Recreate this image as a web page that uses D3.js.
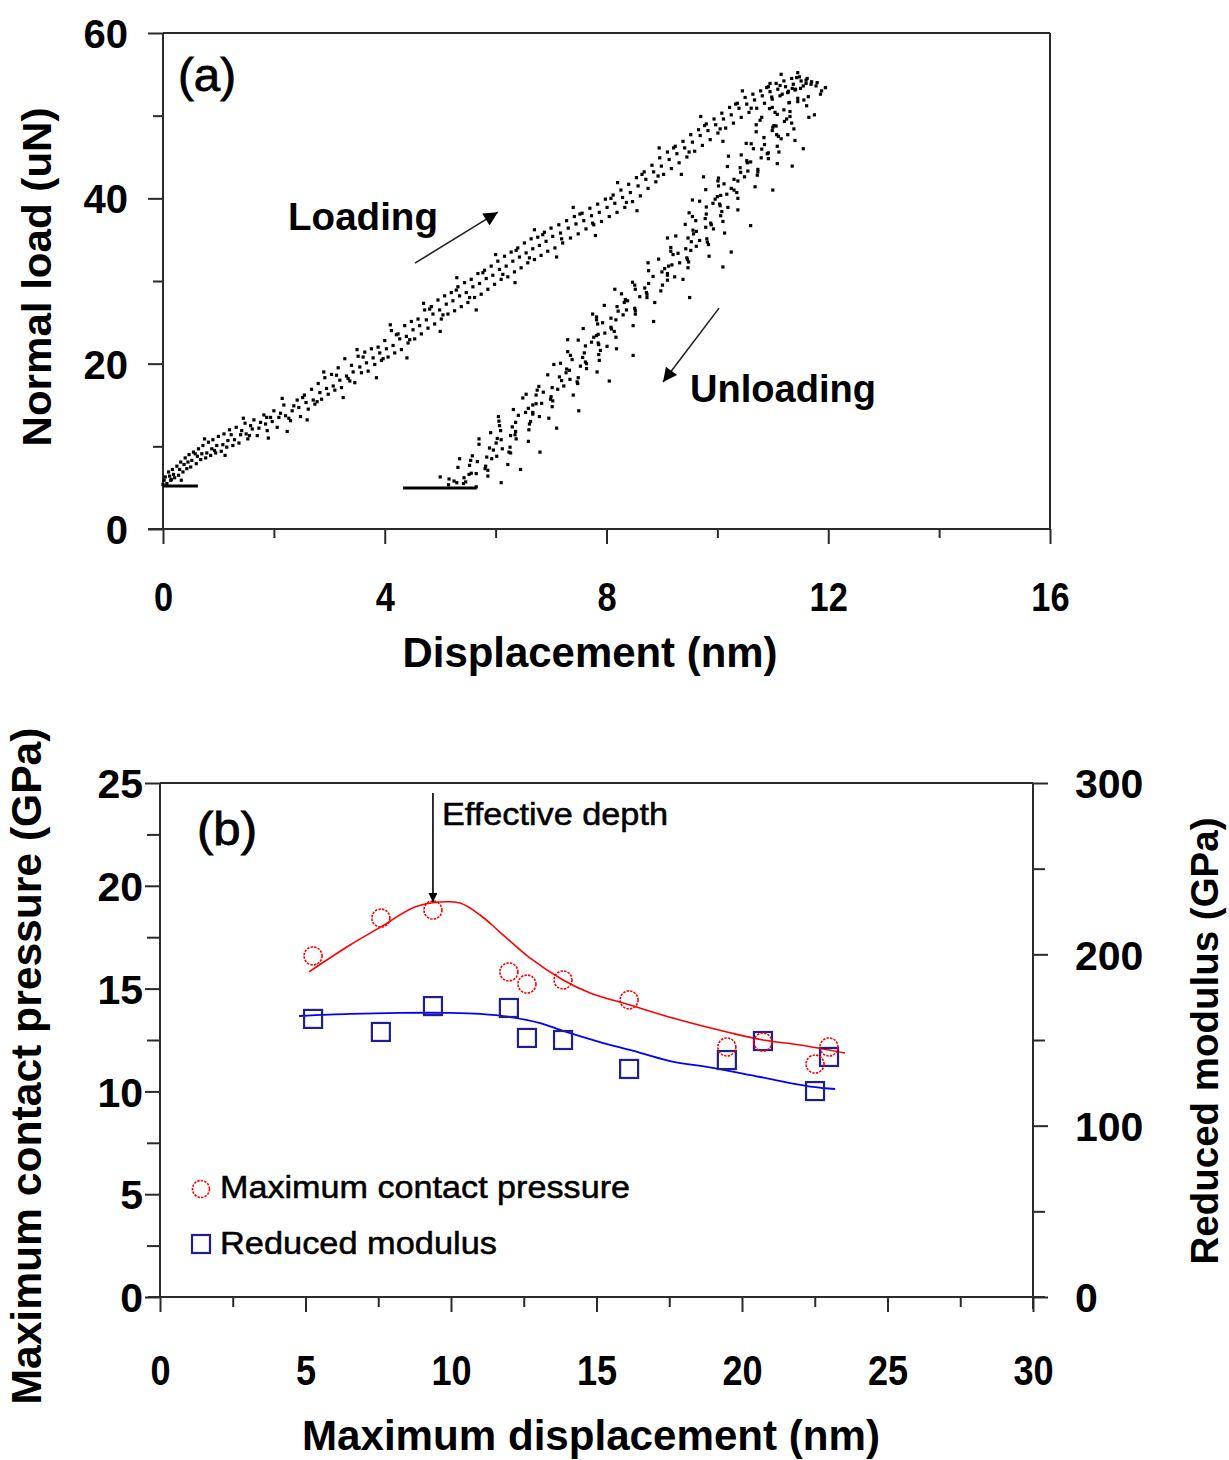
<!DOCTYPE html>
<html><head><meta charset="utf-8">
<script src="https://cdn.jsdelivr.net/npm/d3@7"></script>
<style>body{margin:0;background:#fff}svg{display:block}text{font-family:"Liberation Sans",Arial,sans-serif;fill:#000}</style>
</head><body>
<svg id="c" width="1229" height="1460"></svg>
<script>
// ---------- Panel (a) data ----------
const dispTicks = [0,4,8,12,16];
const dispMinor = [2,6,10,14];
const loadTicks = [0,20,40,60];
const loadMinor = [10,30,50];
const loadingPts = [
[0.0,5.4],[0.04,6.3],[0.07,5.5],[0.1,6.9],[0.14,5.9],[0.17,7.2],[0.21,6.2],[0.25,7.6],[0.28,6.5],[0.32,8.1],[0.36,6.9],[0.4,8.6],[0.43,7.3],[0.47,9.0],[0.5,7.5],[0.55,9.3],[0.6,7.9],[0.64,9.7],[0.68,8.4],[0.72,10.1],[0.77,8.6],[0.82,10.5],[0.86,8.9],[0.9,10.8],[0.95,9.2],[1.0,11.2],[1.05,9.4],[1.1,11.5],[1.15,9.9],[1.2,12.0],[1.26,10.1],[1.32,12.3],[1.37,10.4],[1.42,11.9],[1.48,12.8],[1.53,10.9],[1.58,12.5],[1.64,13.2],[1.7,11.3],[1.76,12.9],[1.82,13.8],[1.88,11.9],[1.94,13.5],[2.0,14.3],[2.06,12.3],[2.12,14.0],[2.18,15.0],[2.24,11.8],[2.3,13.1],[2.36,14.9],[2.42,15.6],[2.48,13.6],[2.55,16.2],[2.62,14.5],[2.68,16.9],[2.74,15.1],[2.8,17.6],[2.86,15.7],[2.92,18.3],[2.98,16.3],[3.04,18.7],[3.1,16.8],[3.16,19.5],[3.22,17.1],[3.28,20.6],[3.34,18.2],[3.4,19.8],[3.46,17.7],[3.52,20.9],[3.58,18.9],[3.64,21.4],[3.7,19.1],[3.76,21.8],[3.82,19.9],[3.88,22.0],[3.94,20.4],[4.0,22.8],[4.06,20.8],[4.12,24.0],[4.18,21.3],[4.24,23.6],[4.3,21.7],[4.36,24.6],[4.42,22.5],[4.48,25.1],[4.54,23.0],[4.6,25.4],[4.66,23.6],[4.72,26.5],[4.78,24.3],[4.84,26.9],[4.9,24.8],[4.96,27.7],[5.02,25.4],[5.08,28.2],[5.14,26.0],[5.2,28.6],[5.26,26.4],[5.32,29.3],[5.38,26.9],[5.44,29.8],[5.5,27.4],[5.56,30.2],[5.62,28.0],[5.68,30.9],[5.74,28.4],[5.8,31.3],[5.86,29.0],[5.92,31.8],[5.98,29.6],[6.04,32.4],[6.1,30.2],[6.16,33.0],[6.22,30.5],[6.28,33.5],[6.34,31.1],[6.4,34.0],[6.46,31.6],[6.52,34.6],[6.58,32.2],[6.64,35.1],[6.7,32.6],[6.76,35.3],[6.82,33.1],[6.88,35.9],[6.94,33.6],[7.0,36.4],[7.07,34.0],[7.14,36.8],[7.21,34.6],[7.28,37.3],[7.35,35.2],[7.42,37.8],[7.49,35.7],[7.56,38.2],[7.63,36.3],[7.7,38.8],[7.77,36.8],[7.84,39.3],[7.91,37.2],[7.98,39.9],[8.05,37.8],[8.12,40.4],[8.19,38.3],[8.26,41.0],[8.33,38.9],[8.4,41.7],[8.47,39.6],[8.54,42.5],[8.61,40.3],[8.68,43.2],[8.75,41.2],[8.82,44.0],[8.89,42.0],[8.96,44.9],[9.03,42.9],[9.1,45.6],[9.17,43.6],[9.24,46.3],[9.31,44.3],[9.38,46.9],[9.45,45.0],[9.52,47.7],[9.59,45.7],[9.66,48.3],[9.73,46.4],[9.8,49.0],[9.87,47.1],[9.94,49.6],[10.01,47.9],[10.08,50.3],[10.15,48.5],[10.22,51.0],[10.29,49.1],[10.36,51.5],[10.43,49.8],[10.5,52.2],[10.57,50.4],[10.64,52.6],[10.71,50.9],[10.78,53.0],[10.85,51.5],[10.92,53.5],[10.99,52.0],[11.06,53.9],[11.13,52.4],[11.2,54.2],[11.27,52.8],[11.34,54.5],[11.41,53.2],[11.48,54.7],[11.55,53.6],[11.62,54.5],[11.7,54.1],[11.78,53.6],[11.88,53.0],
[0.02,5.9],[0.12,6.4],[0.19,6.6],[0.3,7.2],[0.38,7.8],[0.45,8.1],[0.52,8.3],[0.62,8.8],[0.7,9.1],[0.79,9.2],[0.88,9.7],[0.97,10.1],[1.08,10.2],[1.17,10.7],[1.29,10.8],[1.4,11.4],[1.5,11.5],[1.61,12.1],[1.73,12.2],[1.85,12.7],[1.97,13.0],[2.09,13.5],[2.21,13.7],[2.33,14.3],[2.45,14.7],[2.58,15.3],[2.71,15.6],[2.83,16.5],[2.95,17.0],[3.07,17.3],[3.19,18.0],[3.31,18.5],[3.43,19.0],[3.55,19.6],[3.67,20.1],[3.79,20.7],[3.91,21.3],[4.03,21.8],[4.15,22.2],[4.27,23.0],[4.39,23.3],[4.51,24.1],[4.63,24.6],[4.75,25.3],[4.87,26.0],[4.99,26.5],[5.11,27.2],[5.23,27.6],[5.35,28.2],[5.47,28.6],[5.59,29.3],[5.71,29.7],[5.83,30.3],[5.95,30.7],[6.07,31.4],[6.19,31.8],[6.31,32.4],[6.43,32.9],[6.55,33.4],[6.67,33.9],[6.79,34.3],[6.91,34.8],[7.03,35.4],[7.17,35.8],[7.31,36.4],[7.45,36.9],[7.59,37.3],[7.73,37.9],[7.87,38.3],[8.01,38.9],[8.15,39.4],[8.29,40.1],[8.43,40.7],[8.57,41.5],[8.71,42.3],[8.85,43.2],[8.99,43.9],[9.13,44.7],[9.27,45.4],[9.41,46.1],[9.55,46.8],[9.69,47.6],[9.83,48.2],[9.97,48.9],[10.11,49.6],[10.25,50.1],[10.39,50.9],[10.53,51.4],[10.67,51.9],[10.81,52.4],[10.95,52.9],[11.09,53.2],[11.23,53.5],[11.37,53.8],[11.51,54.2],[11.6,53.9],
[0.33,5.9],[0.75,10.9],[1.12,8.9],[1.45,13.4],[1.9,11.0],[2.15,15.8],[2.6,13.2],[2.9,19.0],[3.25,15.9],[3.5,21.7],[3.85,18.3],[4.1,24.7],[4.4,20.7],[4.7,27.3],[5.0,23.9],[5.3,30.4],[5.65,26.5],[6.0,33.2],[6.35,29.8],[6.7,36.2],[7.1,32.9],[7.4,38.9],[7.8,35.5],[8.2,41.9],[8.55,38.5],[8.95,46.1],[9.35,42.9],[9.7,49.9],[10.1,46.9],[10.45,53.0],[10.8,49.8],[11.15,55.0],[11.3,51.6],[11.45,55.2],[11.95,53.4],
[0.15,6.0],[0.58,9.1],[0.93,9.5],[1.23,11.4],[1.56,11.3],[1.87,13.5],[2.27,13.4],[2.52,15.9],[2.78,15.4],[3.13,18.6],[3.37,17.9],[3.61,20.8],[3.97,20.6],[4.21,23.5],[4.45,22.9],[4.81,26.6],[5.05,25.9],[5.29,28.9],[5.53,28.0],[5.77,31.0],[6.13,30.8],[6.37,33.7],[6.61,32.8],[6.85,35.6],[7.19,35.1],[7.52,38.1],[7.75,37.0],[8.08,40.0],[8.36,39.5],[8.64,42.9],[8.93,42.7],[9.21,46.1],[9.49,45.6],[9.77,48.8],[10.05,48.4],[10.33,51.4],[10.61,50.9],[10.89,53.4],[11.17,52.6],[11.43,54.6]
];
const unloadingPts = [
[11.8,54.0],[11.13,53.65],[11.5,53.3],[11.28,52.95],[11.86,52.6],[10.98,52.25],[11.56,51.9],[11.29,51.55],[11.61,51.2],[10.94,50.85],[11.31,50.5],[11.08,50.15],[11.65,49.8],[10.77,49.45],[11.34,49.1],[11.06,48.75],[11.38,48.4],[10.7,48.05],[11.07,47.7],[10.84,47.35],[11.4,47.0],[10.52,46.65],[11.08,46.3],[10.8,45.95],[11.11,45.6],[10.43,45.25],[10.79,44.9],[10.53,44.55],[11.08,44.2],[10.18,43.85],[10.73,43.5],[10.42,43.15],[10.72,42.8],[10.02,42.45],[10.37,42.1],[10.12,41.75],[10.68,41.4],[9.79,41.05],[10.35,40.7],[10.06,40.35],[10.37,40.0],[9.68,39.65],[10.04,39.3],[9.8,38.95],[10.37,38.6],[9.49,38.25],[10.06,37.9],[9.78,37.55],[10.1,37.2],[9.42,36.85],[9.79,36.5],[9.56,36.15],[10.13,35.8],[9.25,35.45],[9.81,35.1],[9.53,34.75],[9.84,34.4],[9.16,34.05],[9.52,33.7],[9.29,33.35],[9.85,33.0],[8.94,32.65],[9.48,32.3],[9.18,31.95],[9.47,31.6],[8.76,31.25],[9.1,30.9],[8.84,30.55],[9.38,30.2],[8.47,29.85],[9.01,29.5],[8.69,29.15],[8.98,28.8],[8.27,28.45],[8.6,28.1],[8.34,27.75],[8.87,27.4],[7.96,27.05],[8.51,26.7],[8.21,26.35],[8.52,26.0],[7.82,25.65],[8.17,25.3],[7.93,24.95],[8.48,24.6],[7.58,24.25],[8.14,23.9],[7.85,23.55],[8.17,23.2],[7.49,22.85],[7.85,22.5],[7.62,22.15],[8.18,21.8],[7.3,21.45],[7.86,21.1],[7.57,20.75],[7.87,20.4],[7.17,20.05],[7.53,19.7],[7.28,19.35],[7.83,19.0],[6.94,18.65],[7.49,18.3],[7.19,17.95],[7.48,17.6],[6.78,17.25],[7.12,16.9],[6.86,16.55],[7.4,16.2],[6.49,15.85],[7.03,15.5],[6.73,15.15],[7.02,14.8],[6.32,14.45],[6.67,14.1],[6.41,13.75],[6.96,13.4],[6.06,13.05],[6.61,12.7],[6.3,12.35],[6.6,12.0],[5.91,11.65],[6.27,11.3],[6.03,10.95],[6.59,10.6],[5.7,10.25],[6.26,9.9],[5.96,9.55],[6.27,9.2],[5.58,8.85],[5.93,8.5],[5.67,8.15],[6.22,7.8],[5.32,7.45],[5.86,7.1],[5.56,6.75],[5.86,6.4],[5.16,6.05],[5.46,5.7],[5.15,5.35],[5.65,5.1],
[11.6,54.3],[11.4,53.1],[11.45,52.1],[11.2,50.7],[11.25,49.6],[11.0,48.6],[11.1,47.5],[10.85,46.5],[10.9,45.4],[10.6,44.4],[10.55,43.3],[10.3,42.3],[10.25,41.2],[10.0,40.2],[10.05,39.1],[9.8,38.1],[9.88,37.0],[9.62,36.0],[9.68,34.9],[9.43,33.9],[9.45,32.8],[9.12,31.8],[9.1,30.7],[8.76,29.7],[8.72,28.6],[8.38,27.6],[8.36,26.5],[8.08,25.5],[8.08,24.4],[7.82,23.4],[7.86,22.3],[7.6,21.3],[7.62,20.2],[7.33,19.2],[7.34,18.1],[7.02,17.1],[7.0,16.0],[6.67,15.0],[6.67,13.9],[6.36,12.9],[6.36,11.8],[6.1,10.8],[6.12,9.7],[5.84,8.7],[5.82,7.6],[5.52,6.6],[5.42,5.5],
[11.95,53.4],[10.95,53.9],[11.75,50.1],[10.7,48.9],[11.55,46.0],[10.2,45.1],[11.35,43.9],[9.75,42.6],[11.0,41.0],[9.55,39.8],[10.6,36.7],[9.1,35.2],[10.25,33.5],[8.75,32.2],[10.1,31.7],[8.15,29.0],[9.5,28.0],[7.75,26.0],[8.85,25.1],[7.3,22.9],[8.48,21.0],[7.05,19.9],[8.05,17.9],[6.55,16.3],[7.5,14.3],[6.05,13.6],[7.1,12.2],[5.7,10.9],[6.8,9.3],[5.35,8.5],[6.45,7.2],[5.0,6.3],[6.1,5.6],[5.25,5.8],
[11.69,53.8],[11.27,52.8],[11.45,51.7],[11.04,50.4],[11.21,49.3],[10.99,48.2],[11.15,47.2],[10.65,46.0],[10.92,44.8],[10.41,43.7],[10.49,42.6],[10.02,41.5],[10.17,40.5],[9.92,39.4],[10.08,38.4],[9.61,37.3],[9.93,36.3],[9.47,35.2],[9.62,34.2],[9.2,33.2],[9.32,32.2],[9.0,31.1],[9.1,30.1],[8.52,29.0],[8.73,28.0],[8.19,26.9],[8.3,25.9],[7.84,24.8],[7.97,23.7],[7.73,22.6],[7.89,21.6],[7.38,20.5],[7.64,19.4],[7.15,18.4],[7.23,17.3],[6.73,16.2],[6.83,15.2],[6.54,14.1],[6.63,13.0],[6.09,11.9],[6.37,10.9],[5.89,9.8],[6.02,8.8],[5.53,7.7],[5.65,6.7],[5.3,5.6],
[11.35,53.3],[11.64,52.3],[10.99,51.0],[11.31,49.9],[11.02,48.8],[11.27,47.7],[10.61,46.6],[10.92,45.5],[10.54,44.3],[10.73,43.2],[10.01,42.1],[10.3,41.0],[9.96,39.9],[10.19,38.9],[9.55,37.8],[9.89,36.8],[9.57,35.7],[9.82,34.7],[9.16,33.6],[9.46,32.6],[9.05,31.5],[9.23,30.5],[8.51,29.5],[8.73,28.4],[8.32,27.4],[8.52,26.4],[7.82,25.3],[8.09,24.2],[7.77,23.2],[8.01,22.1],[7.35,21.0],[7.64,20.0],[7.27,18.9],[7.47,17.8],[6.75,16.8],[6.99,15.7],[6.59,14.6],[6.79,13.6],[6.07,12.5],[6.35,11.4],[6.01,10.4],[6.24,9.3],[5.55,8.3],[5.81,7.3],[5.43,6.2]
];
// flat pre-load segments [x0, x1, load]
const baseSegs = [[0,0.63,5.2],[4.33,5.66,4.96]];

// ---------- Panel (b) data ----------
const dispBTicks = [0,5,10,15,20,25,30];
const dispBMinor = [2.5,7.5,12.5,17.5,22.5,27.5];
const presTicks = [0,5,10,15,20,25];
const presMinor = [2.5,7.5,12.5,17.5,22.5];
const modTicks = [0,100,200,300];
const modMinor = [50,150,250];
const maxDisp  = [5.26,7.59,9.38,11.99,12.61,13.85,16.12,19.48,20.72,22.51,22.99];
const pressure = [16.59,18.43,18.82,15.81,15.22,15.42,14.45,12.16,12.40,11.33,12.16];
const modulus  = [162.3,154.7,169.8,168.7,151.2,150.0,133.1,138.3,149.4,120.2,140.1];
const presFitX = [5.12,6.53,7.59,8.76,9.62,10.31,11.0,11.68,12.71,13.85,14.78,16.15,17.87,19.48,20.72,21.99,23.54];
const presFitY = [15.81,17.12,18.0,18.97,19.21,19.16,18.58,17.75,16.49,15.42,14.79,14.2,13.47,12.89,12.5,12.26,11.87];
const modFitX = [4.78,6.53,8.25,9.97,11.0,12.03,13.06,13.85,15.12,16.15,17.53,19.0,20.62,22.44,23.2];
const modFitY = [164.0,165.2,165.8,165.8,165.2,163.4,159.9,155.3,148.8,144.2,137.7,133.7,128.4,122.6,121.4];

// ---------- drawing ----------
const svg = d3.select('#c');
const AX = '#2a2a2a';
const defs = svg.append('defs');
defs.append('marker').attr('id','ah').attr('viewBox','0 0 10 10').attr('refX',10).attr('refY',5)
  .attr('markerWidth',9).attr('markerHeight',9).attr('markerUnits','userSpaceOnUse').attr('orient','auto')
  .append('path').attr('d','M0,0L10,5L0,10Z').attr('fill','#000');
defs.append('marker').attr('id','ah2').attr('viewBox','0 0 10 10').attr('refX',10).attr('refY',5)
  .attr('markerWidth',18).attr('markerHeight',14).attr('markerUnits','userSpaceOnUse').attr('orient','auto')
  .append('path').attr('d','M0,0L10,5L0,10Z').attr('fill','#000');

function txt(x,y,s,size,weight,len,anchor,rot){
  const t = svg.append('text').attr('x',x).attr('y',y).text(s)
    .style('font-size',size+'px').style('font-weight',weight||'normal')
    .attr('text-anchor',anchor||'start');
  if(len) t.attr('textLength',len).attr('lengthAdjust','spacingAndGlyphs');
  if(rot) t.attr('transform',`rotate(${rot},${x},${y})`);
  return t;
}
function styleAxis(g){ g.select('.domain').remove(); g.selectAll('line').attr('stroke',AX).attr('stroke-width',2); }

// Panel (a)
const xA = d3.scaleLinear().domain([0,16]).range([163,1050]);
const yA = d3.scaleLinear().domain([0,60]).range([529,33]);

svg.append('g').attr('transform','translate(0,529)')
  .call(d3.axisBottom(xA).tickValues(dispMinor).tickSize(9).tickFormat(''))
  .call(styleAxis);
const gxa = svg.append('g').attr('transform','translate(0,529)')
  .call(d3.axisBottom(xA).tickValues(dispTicks).tickSize(15).tickFormat(d3.format('d')))
  .call(styleAxis);
gxa.selectAll('text').attr('y',82).attr('dy',null).style('font-size','40px').style('font-weight','bold')
  .attr('fill','#000').attr('transform','scale(0.86,1)').style('font-family','"Liberation Sans",Arial,sans-serif');

svg.append('g').attr('transform','translate(163,0)')
  .call(d3.axisLeft(yA).tickValues(loadMinor).tickSize(10).tickFormat(''))
  .call(styleAxis);
const gya = svg.append('g').attr('transform','translate(163,0)')
  .call(d3.axisLeft(yA).tickValues(loadTicks).tickSize(15).tickFormat(d3.format('d')))
  .call(styleAxis);
gya.selectAll('text').attr('x',-35).attr('dy','0.36em').style('font-size','40px').style('font-weight','bold')
  .attr('fill','#000').style('font-family','"Liberation Sans",Arial,sans-serif');

// frame (a)
const frameA = [[xA(0)-15,yA(0),xA(16),yA(0)],[xA(0),yA(0),xA(0),yA(60)],[xA(0),yA(60),xA(16),yA(60)],[xA(16),yA(60),xA(16),yA(0)]];
svg.append('g').selectAll('line').data(frameA).join('line')
  .attr('x1',d=>d[0]).attr('y1',d=>d[1]).attr('x2',d=>d[2]).attr('y2',d=>d[3])
  .attr('stroke',AX).attr('stroke-width',2);

// scatter
const dotsG = svg.append('g').attr('fill','#000');
dotsG.selectAll('rect.l').data(loadingPts).join('rect').attr('class','l')
  .attr('x',d=>xA(d[0])-1.6).attr('y',d=>yA(d[1])-1.6).attr('width',3.2).attr('height',3.2);
dotsG.selectAll('rect.u').data(unloadingPts).join('rect').attr('class','u')
  .attr('x',d=>xA(d[0])-1.6).attr('y',d=>yA(d[1])-1.6).attr('width',3.2).attr('height',3.2);
svg.append('g').selectAll('line').data(baseSegs).join('line')
  .attr('x1',d=>xA(d[0])).attr('x2',d=>xA(d[1])).attr('y1',d=>yA(d[2])).attr('y2',d=>yA(d[2]))
  .attr('stroke','#000').attr('stroke-width',3);

// annotations (a)
txt(178,91,'(a)',46,'normal',58).style('stroke','#000').style('stroke-width',0.8);
txt(288,230,'Loading',38,'bold',150);
txt(690,402,'Unloading',38,'bold',186);
svg.append('line').attr('x1',xA(4.545)).attr('y1',yA(32.16)).attr('x2',xA(6.04)).attr('y2',yA(38.33))
  .attr('stroke','#222').attr('stroke-width',1.6).attr('marker-end','url(#ah2)');
svg.append('line').attr('x1',xA(10.03)).attr('y1',yA(26.72)).attr('x2',xA(9.02)).attr('y2',yA(17.78))
  .attr('stroke','#222').attr('stroke-width',1.6).attr('marker-end','url(#ah2)');
txt(590,667,'Displacement (nm)',42,'bold',375,'middle');
txt(51,277,'Normal load (uN)',40,'bold',339,'middle',-90);

// Panel (b)
const xB = d3.scaleLinear().domain([0,30]).range([160,1033]);
const yBL = d3.scaleLinear().domain([0,25]).range([1297,783]);
const yBR = d3.scaleLinear().domain([0,300]).range([1297,783]);

svg.append('g').attr('transform','translate(0,1297)')
  .call(d3.axisBottom(xB).tickValues(dispBMinor).tickSize(10).tickFormat(''))
  .call(styleAxis);
const gxb = svg.append('g').attr('transform','translate(0,1297)')
  .call(d3.axisBottom(xB).tickValues(dispBTicks).tickSize(15).tickFormat(d3.format('d')))
  .call(styleAxis);
gxb.selectAll('text').attr('y',88).attr('dy',null).style('font-size','42px').style('font-weight','bold')
  .attr('fill','#000').attr('transform','scale(0.86,1)').style('font-family','"Liberation Sans",Arial,sans-serif');

svg.append('g').attr('transform','translate(160,0)')
  .call(d3.axisLeft(yBL).tickValues(presMinor).tickSize(13).tickFormat(''))
  .call(styleAxis);
const gyb = svg.append('g').attr('transform','translate(160,0)')
  .call(d3.axisLeft(yBL).tickValues(presTicks).tickSize(15).tickFormat(d3.format('d')))
  .call(styleAxis);
gyb.selectAll('text').attr('x',-17).attr('dy','0.36em').style('font-size','41px').style('font-weight','bold')
  .attr('fill','#000').style('font-family','"Liberation Sans",Arial,sans-serif');

svg.append('g').attr('transform','translate(1033,0)')
  .call(d3.axisRight(yBR).tickValues(modMinor).tickSize(12).tickFormat(''))
  .call(styleAxis);
const gyr = svg.append('g').attr('transform','translate(1033,0)')
  .call(d3.axisRight(yBR).tickValues(modTicks).tickSize(15).tickFormat(d3.format('d')))
  .call(styleAxis);
gyr.selectAll('text').attr('x',42).attr('dy','0.36em').style('font-size','41px').style('font-weight','bold')
  .attr('fill','#000').style('font-family','"Liberation Sans",Arial,sans-serif');

const frameB = [[xB(0)-12,yBL(0),xB(30)+12,yBL(0)],[xB(0),yBL(0),xB(0),yBL(25)],[xB(0),yBL(25),xB(30),yBL(25)],[xB(30),yBL(25),xB(30),yBL(0)+12]];
svg.append('g').selectAll('line').data(frameB).join('line')
  .attr('x1',d=>d[0]).attr('y1',d=>d[1]).attr('x2',d=>d[2]).attr('y2',d=>d[3])
  .attr('stroke',AX).attr('stroke-width',2);

// fit lines
const presLine = d3.line().x(d=>xB(d[0])).y(d=>yBL(d[1])).curve(d3.curveCatmullRom);
const modLine = d3.line().x(d=>xB(d[0])).y(d=>yBR(d[1])).curve(d3.curveCatmullRom);
svg.append('path').attr('d',presLine(presFitX.map((x,i)=>[x,presFitY[i]])))
  .attr('fill','none').attr('stroke','#ff0000').attr('stroke-width',1.6);
svg.append('path').attr('d',modLine(modFitX.map((x,i)=>[x,modFitY[i]])))
  .attr('fill','none').attr('stroke','#0000ff').attr('stroke-width',1.8);

// markers
svg.append('g').selectAll('rect').data(maxDisp.map((x,i)=>[x,modulus[i]])).join('rect')
  .attr('x',d=>xB(d[0])-9).attr('y',d=>yBR(d[1])-9).attr('width',18).attr('height',18)
  .attr('fill','none').attr('stroke','#1f1f8f').attr('stroke-width',2.2);
svg.append('g').selectAll('circle').data(maxDisp.map((x,i)=>[x,pressure[i]])).join('circle')
  .attr('cx',d=>xB(d[0])).attr('cy',d=>yBL(d[1])).attr('r',9)
  .attr('fill','none').attr('stroke','#ff0000').attr('stroke-width',1.6).attr('stroke-dasharray','2.4 1.2');

// annotations (b)
txt(197,845,'(b)',46,'normal',60).style('stroke','#000').style('stroke-width',0.8);
svg.append('line').attr('x1',xB(9.38)).attr('y1',yBL(24.51)).attr('x2',xB(9.38)).attr('y2',yBL(19.21))
  .attr('stroke','#000').attr('stroke-width',1.6).attr('marker-end','url(#ah)');
txt(442,825,'Effective depth',31,'normal',226).style('stroke','#000').style('stroke-width',0.5);

// legend
svg.append('circle').attr('cx',201).attr('cy',1189).attr('r',8.5).attr('fill','none')
  .attr('stroke','#ff0000').attr('stroke-width',1.6).attr('stroke-dasharray','2.4 1.2');
svg.append('rect').attr('x',192).attr('y',1235).attr('width',18).attr('height',18).attr('fill','none')
  .attr('stroke','#1f1f8f').attr('stroke-width',2.2);
txt(220,1198,'Maximum contact pressure',31,'normal',410).style('stroke','#000').style('stroke-width',0.5);
txt(220,1254,'Reduced modulus',31,'normal',277).style('stroke','#000').style('stroke-width',0.5);

txt(591,1450,'Maximum displacement (nm)',42,'bold',578,'middle');
txt(41,1066,'Maximum contact pressure (GPa)',42,'bold',677,'middle',-90);
txt(1218,1041,'Reduced modulus (GPa)',38,'bold',447,'middle',-90);
</script>
</body></html>
